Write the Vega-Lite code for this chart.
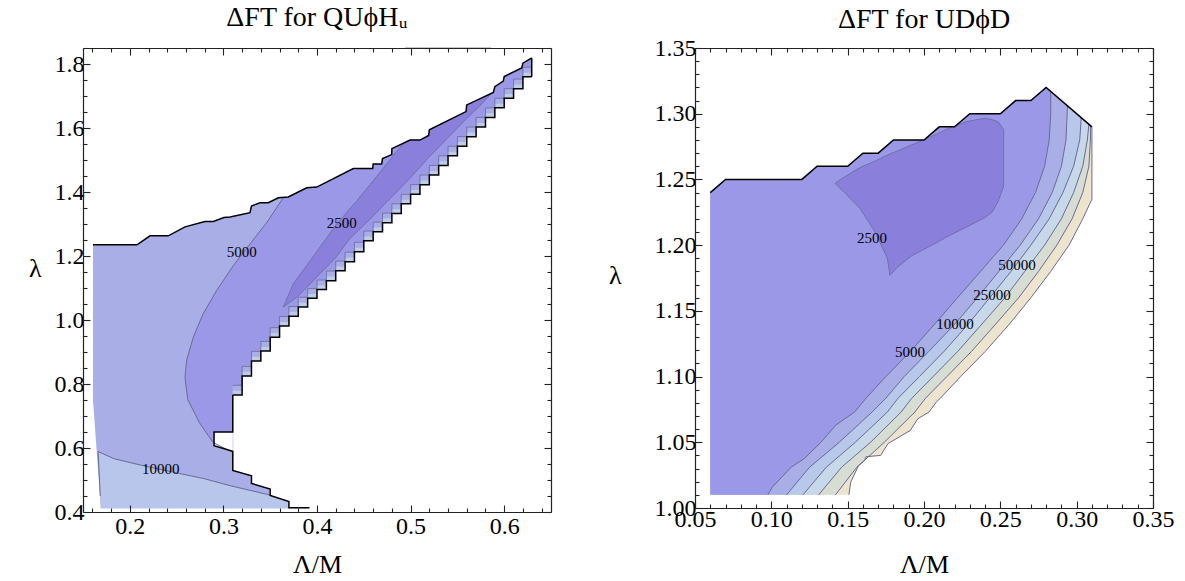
{
"$schema": "https://vega.github.io/schema/vega-lite/v6.json",
"padding": {"left": 28, "top": 4, "right": 5, "bottom": 0},
"spacing": 56,
"config": {
 "font": "Liberation Serif, Times New Roman, serif",
 "view": {"stroke": null},
 "axis": {"grid": false, "domainColor": "#222222", "domainWidth": 1.2, "tickColor": "#222222", "tickWidth": 1.1, "labelColor": "#000000", "titleColor": "#000000", "labelFont": "Liberation Serif, Times New Roman, serif", "titleFont": "Liberation Serif, Times New Roman, serif", "labelFontSize": 24, "titleFontSize": 26, "titleFontWeight": "normal", "labelFlush": false, "labelOverlap": false, "zindex": 1},
 "title": {"font": "Liberation Serif, Times New Roman, serif", "fontSize": 28, "fontWeight": "normal", "color": "#000000", "anchor": "middle", "frame": "group"}
},
"datasets": {
 "L_reg": [
  {"r":"u","i":0,"x":0.1607,"lo":0.75,"hi":1.85},
  {"r":"u","i":1,"x":0.169,"lo":0.412,"hi":1.85},
  {"r":"u","i":2,"x":0.3105,"lo":0.412,"hi":1.85},
  {"r":"t","i":0,"x":0.3095,"lo":0.412,"hi":0.53},
  {"r":"t","i":1,"x":0.31,"lo":0.412,"hi":0.53},
  {"r":"t","i":2,"x":0.33,"lo":0.412,"hi":0.513},
  {"r":"t","i":3,"x":0.33,"lo":0.412,"hi":0.489},
  {"r":"t","i":4,"x":0.35,"lo":0.412,"hi":0.472},
  {"r":"t","i":5,"x":0.35,"lo":0.412,"hi":0.4516},
  {"r":"t","i":6,"x":0.37,"lo":0.412,"hi":0.433},
  {"r":"t","i":7,"x":0.37,"lo":0.412,"hi":0.413},
  {"r":"t","i":8,"x":0.39,"lo":0.412,"hi":0.413},
  {"r":"k","i":0,"x":0.1661,"lo":0.589,"hi":0.589},
  {"r":"k","i":1,"x":0.169,"lo":0.412,"hi":0.5852},
  {"r":"k","i":2,"x":0.1834,"lo":0.412,"hi":0.5664},
  {"r":"k","i":3,"x":0.2124,"lo":0.412,"hi":0.546},
  {"r":"k","i":4,"x":0.2537,"lo":0.412,"hi":0.52},
  {"r":"k","i":5,"x":0.2785,"lo":0.412,"hi":0.505},
  {"r":"k","i":6,"x":0.3075,"lo":0.412,"hi":0.482},
  {"r":"k","i":7,"x":0.3488,"lo":0.412,"hi":0.4537},
  {"r":"k","i":8,"x":0.35,"lo":0.412,"hi":0.4516},
  {"r":"k","i":9,"x":0.37,"lo":0.412,"hi":0.433},
  {"r":"k","i":10,"x":0.37,"lo":0.412,"hi":0.413},
  {"r":"m","i":0,"x":0.259,"lo":0.82,"hi":0.82},
  {"r":"m","i":1,"x":0.2608,"lo":0.7786,"hi":0.875},
  {"r":"m","i":2,"x":0.262,"lo":0.751,"hi":0.887},
  {"r":"m","i":3,"x":0.2679,"lo":0.7167,"hi":0.947},
  {"r":"m","i":4,"x":0.2744,"lo":0.679,"hi":0.9918},
  {"r":"m","i":5,"x":0.2785,"lo":0.6616,"hi":1.02},
  {"r":"m","i":6,"x":0.289,"lo":0.617,"hi":1.0732},
  {"r":"m","i":7,"x":0.2928,"lo":0.6114,"hi":1.0924},
  {"r":"m","i":8,"x":0.3095,"lo":0.587,"hi":1.1652},
  {"r":"m","i":9,"x":0.31,"lo":0.587,"hi":1.1674},
  {"r":"m","i":10,"x":0.31,"lo":0.766,"hi":1.1674},
  {"r":"m","i":11,"x":0.3106,"lo":0.766,"hi":1.17},
  {"r":"m","i":12,"x":0.32,"lo":0.766,"hi":1.2056},
  {"r":"m","i":13,"x":0.32,"lo":0.825,"hi":1.2056},
  {"r":"m","i":14,"x":0.3284,"lo":0.825,"hi":1.2374},
  {"r":"m","i":15,"x":0.33,"lo":0.825,"hi":1.2434},
  {"r":"m","i":16,"x":0.33,"lo":0.872,"hi":1.2434},
  {"r":"m","i":17,"x":0.34,"lo":0.872,"hi":1.2809},
  {"r":"m","i":18,"x":0.34,"lo":0.903,"hi":1.2809},
  {"r":"m","i":19,"x":0.3463,"lo":0.903,"hi":1.3045},
  {"r":"m","i":20,"x":0.35,"lo":0.903,"hi":1.3207},
  {"r":"m","i":21,"x":0.35,"lo":0.946,"hi":1.3207},
  {"r":"m","i":22,"x":0.36,"lo":0.946,"hi":1.3645},
  {"r":"m","i":23,"x":0.36,"lo":0.981,"hi":1.3645},
  {"r":"m","i":24,"x":0.364,"lo":0.981,"hi":1.382},
  {"r":"m","i":25,"x":0.364,"lo":0.981,"hi":1.85},
  {"r":"m","i":26,"x":0.3705,"lo":0.981,"hi":1.85},
  {"r":"d","i":0,"x":0.364,"lo":1.0405,"hi":1.0405},
  {"r":"d","i":1,"x":0.3747,"lo":1.0636,"hi":1.113},
  {"r":"d","i":2,"x":0.38,"lo":1.075,"hi":1.134},
  {"r":"d","i":3,"x":0.389,"lo":1.102,"hi":1.17},
  {"r":"d","i":4,"x":0.4,"lo":1.135,"hi":1.215},
  {"r":"d","i":5,"x":0.4067,"lo":1.155,"hi":1.242},
  {"r":"d","i":6,"x":0.42,"lo":1.195,"hi":1.2955},
  {"r":"d","i":7,"x":0.421,"lo":1.199,"hi":1.2995},
  {"r":"d","i":8,"x":0.435,"lo":1.254,"hi":1.347},
  {"r":"d","i":9,"x":0.4424,"lo":1.275,"hi":1.372},
  {"r":"d","i":10,"x":0.46,"lo":1.325,"hi":1.435},
  {"r":"d","i":11,"x":0.4638,"lo":1.3364,"hi":1.449},
  {"r":"d","i":12,"x":0.48,"lo":1.385,"hi":1.508},
  {"r":"d","i":13,"x":0.4851,"lo":1.4,"hi":1.527},
  {"r":"d","i":14,"x":0.494,"lo":1.427,"hi":1.558},
  {"r":"d","i":15,"x":0.494,"lo":1.427,"hi":1.85},
  {"r":"d","i":16,"x":0.5,"lo":1.445,"hi":1.85},
  {"r":"d","i":17,"x":0.52,"lo":1.51,"hi":1.85},
  {"r":"d","i":18,"x":0.54,"lo":1.57,"hi":1.85},
  {"r":"d","i":19,"x":0.56,"lo":1.63,"hi":1.85},
  {"r":"d","i":20,"x":0.575,"lo":1.672,"hi":1.85},
  {"r":"d","i":21,"x":0.586,"lo":1.707,"hi":1.85},
  {"r":"n","i":0,"x":0.29,"lo":0.607,"hi":0.65},
  {"r":"n","i":1,"x":0.31,"lo":0.59,"hi":0.65},
  {"r":"w","i":0,"x":0.1597,"lo":1.235,"hi":1.85},
  {"r":"w","i":1,"x":0.1607,"lo":1.235,"hi":1.85},
  {"r":"w","i":2,"x":0.2077,"lo":1.235,"hi":1.85},
  {"r":"w","i":3,"x":0.2216,"lo":1.263,"hi":1.85},
  {"r":"w","i":4,"x":0.2411,"lo":1.263,"hi":1.85},
  {"r":"w","i":5,"x":0.259,"lo":1.291,"hi":1.85},
  {"r":"w","i":6,"x":0.2803,"lo":1.3076,"hi":1.85},
  {"r":"w","i":7,"x":0.2892,"lo":1.3076,"hi":1.85},
  {"r":"w","i":8,"x":0.3006,"lo":1.32,"hi":1.85},
  {"r":"w","i":9,"x":0.3071,"lo":1.322,"hi":1.85},
  {"r":"w","i":10,"x":0.3284,"lo":1.3355,"hi":1.85},
  {"r":"w","i":11,"x":0.33,"lo":1.3563,"hi":1.85},
  {"r":"w","i":12,"x":0.3391,"lo":1.3666,"hi":1.85},
  {"r":"w","i":13,"x":0.348,"lo":1.3666,"hi":1.85},
  {"r":"w","i":14,"x":0.3587,"lo":1.3821,"hi":1.85},
  {"r":"w","i":15,"x":0.3693,"lo":1.3843,"hi":1.85},
  {"r":"w","i":16,"x":0.389,"lo":1.4131,"hi":1.85},
  {"r":"w","i":17,"x":0.3997,"lo":1.4153,"hi":1.85},
  {"r":"w","i":18,"x":0.4388,"lo":1.4734,"hi":1.85},
  {"r":"w","i":19,"x":0.4595,"lo":1.4734,"hi":1.85},
  {"r":"w","i":20,"x":0.46,"lo":1.4877,"hi":1.85},
  {"r":"w","i":21,"x":0.4691,"lo":1.4877,"hi":1.85},
  {"r":"w","i":22,"x":0.47,"lo":1.5044,"hi":1.85},
  {"r":"w","i":23,"x":0.4798,"lo":1.5168,"hi":1.85},
  {"r":"w","i":24,"x":0.48,"lo":1.5355,"hi":1.85},
  {"r":"w","i":25,"x":0.4994,"lo":1.5622,"hi":1.85},
  {"r":"w","i":26,"x":0.51,"lo":1.5622,"hi":1.85},
  {"r":"w","i":27,"x":0.5193,"lo":1.5768,"hi":1.85},
  {"r":"w","i":28,"x":0.52,"lo":1.5945,"hi":1.85},
  {"r":"w","i":29,"x":0.5592,"lo":1.6513,"hi":1.85},
  {"r":"w","i":30,"x":0.56,"lo":1.6721,"hi":1.85},
  {"r":"w","i":31,"x":0.5884,"lo":1.7112,"hi":1.85},
  {"r":"w","i":32,"x":0.59,"lo":1.7289,"hi":1.85},
  {"r":"w","i":33,"x":0.599,"lo":1.7466,"hi":1.85},
  {"r":"w","i":34,"x":0.6,"lo":1.7609,"hi":1.85},
  {"r":"w","i":35,"x":0.6187,"lo":1.7879,"hi":1.85},
  {"r":"w","i":36,"x":0.62,"lo":1.8025,"hi":1.85},
  {"r":"w","i":37,"x":0.6294,"lo":1.8189,"hi":1.85},
  {"r":"w","i":38,"x":0.6315,"lo":1.8,"hi":1.85}
 ],
 "L_st": [
  {"i":0,"x":0.31,"s":0.766,"a":0.796,"b":0.779},
  {"i":1,"x":0.32,"s":0.766,"a":0.796,"b":0.779},
  {"i":2,"x":0.32,"s":0.825,"a":0.855,"b":0.838},
  {"i":3,"x":0.33,"s":0.825,"a":0.855,"b":0.838},
  {"i":4,"x":0.33,"s":0.872,"a":0.902,"b":0.885},
  {"i":5,"x":0.34,"s":0.872,"a":0.902,"b":0.885},
  {"i":6,"x":0.34,"s":0.903,"a":0.933,"b":0.916},
  {"i":7,"x":0.35,"s":0.903,"a":0.933,"b":0.916},
  {"i":8,"x":0.35,"s":0.946,"a":0.976,"b":0.959},
  {"i":9,"x":0.36,"s":0.946,"a":0.976,"b":0.959},
  {"i":10,"x":0.36,"s":0.981,"a":1.011,"b":0.994},
  {"i":11,"x":0.37,"s":0.981,"a":1.011,"b":0.994},
  {"i":12,"x":0.37,"s":1.012,"a":1.042,"b":1.025},
  {"i":13,"x":0.38,"s":1.012,"a":1.042,"b":1.025},
  {"i":14,"x":0.38,"s":1.041,"a":1.071,"b":1.054},
  {"i":15,"x":0.39,"s":1.041,"a":1.071,"b":1.054},
  {"i":16,"x":0.39,"s":1.068,"a":1.098,"b":1.081},
  {"i":17,"x":0.4,"s":1.068,"a":1.098,"b":1.081},
  {"i":18,"x":0.4,"s":1.095,"a":1.125,"b":1.108},
  {"i":19,"x":0.41,"s":1.095,"a":1.125,"b":1.108},
  {"i":20,"x":0.41,"s":1.123,"a":1.153,"b":1.136},
  {"i":21,"x":0.42,"s":1.123,"a":1.153,"b":1.136},
  {"i":22,"x":0.42,"s":1.154,"a":1.184,"b":1.167},
  {"i":23,"x":0.43,"s":1.154,"a":1.184,"b":1.167},
  {"i":24,"x":0.43,"s":1.182,"a":1.212,"b":1.195},
  {"i":25,"x":0.44,"s":1.182,"a":1.212,"b":1.195},
  {"i":26,"x":0.44,"s":1.213,"a":1.243,"b":1.226},
  {"i":27,"x":0.45,"s":1.213,"a":1.243,"b":1.226},
  {"i":28,"x":0.45,"s":1.248,"a":1.278,"b":1.261},
  {"i":29,"x":0.46,"s":1.248,"a":1.278,"b":1.261},
  {"i":30,"x":0.46,"s":1.276,"a":1.306,"b":1.289},
  {"i":31,"x":0.47,"s":1.276,"a":1.306,"b":1.289},
  {"i":32,"x":0.47,"s":1.304,"a":1.334,"b":1.317},
  {"i":33,"x":0.48,"s":1.304,"a":1.334,"b":1.317},
  {"i":34,"x":0.48,"s":1.333,"a":1.363,"b":1.346},
  {"i":35,"x":0.49,"s":1.333,"a":1.363,"b":1.346},
  {"i":36,"x":0.49,"s":1.363,"a":1.393,"b":1.376},
  {"i":37,"x":0.5,"s":1.363,"a":1.393,"b":1.376},
  {"i":38,"x":0.5,"s":1.393,"a":1.423,"b":1.406},
  {"i":39,"x":0.51,"s":1.393,"a":1.423,"b":1.406},
  {"i":40,"x":0.51,"s":1.423,"a":1.453,"b":1.436},
  {"i":41,"x":0.52,"s":1.423,"a":1.453,"b":1.436},
  {"i":42,"x":0.52,"s":1.453,"a":1.483,"b":1.466},
  {"i":43,"x":0.53,"s":1.453,"a":1.483,"b":1.466},
  {"i":44,"x":0.53,"s":1.483,"a":1.513,"b":1.496},
  {"i":45,"x":0.54,"s":1.483,"a":1.513,"b":1.496},
  {"i":46,"x":0.54,"s":1.513,"a":1.543,"b":1.526},
  {"i":47,"x":0.55,"s":1.513,"a":1.543,"b":1.526},
  {"i":48,"x":0.55,"s":1.543,"a":1.573,"b":1.556},
  {"i":49,"x":0.56,"s":1.543,"a":1.573,"b":1.556},
  {"i":50,"x":0.56,"s":1.573,"a":1.603,"b":1.586},
  {"i":51,"x":0.57,"s":1.573,"a":1.603,"b":1.586},
  {"i":52,"x":0.57,"s":1.603,"a":1.633,"b":1.616},
  {"i":53,"x":0.58,"s":1.603,"a":1.633,"b":1.616},
  {"i":54,"x":0.58,"s":1.633,"a":1.663,"b":1.646},
  {"i":55,"x":0.59,"s":1.633,"a":1.663,"b":1.646},
  {"i":56,"x":0.59,"s":1.663,"a":1.693,"b":1.676},
  {"i":57,"x":0.6,"s":1.663,"a":1.693,"b":1.676},
  {"i":58,"x":0.6,"s":1.693,"a":1.723,"b":1.706},
  {"i":59,"x":0.61,"s":1.693,"a":1.723,"b":1.706},
  {"i":60,"x":0.61,"s":1.723,"a":1.753,"b":1.736},
  {"i":61,"x":0.62,"s":1.723,"a":1.753,"b":1.736},
  {"i":62,"x":0.62,"s":1.76,"a":1.79,"b":1.773},
  {"i":63,"x":0.6294,"s":1.76,"a":1.79,"b":1.773}
 ],
 "L_ln": [
  {"g":"top","i":0,"x":0.1607,"y":1.235},
  {"g":"top","i":1,"x":0.2077,"y":1.235},
  {"g":"top","i":2,"x":0.2216,"y":1.263},
  {"g":"top","i":3,"x":0.2411,"y":1.263},
  {"g":"top","i":4,"x":0.259,"y":1.291},
  {"g":"top","i":5,"x":0.2803,"y":1.3076},
  {"g":"top","i":6,"x":0.2892,"y":1.3076},
  {"g":"top","i":7,"x":0.3006,"y":1.32},
  {"g":"top","i":8,"x":0.3071,"y":1.322},
  {"g":"top","i":9,"x":0.3284,"y":1.3355},
  {"g":"top","i":10,"x":0.33,"y":1.3563},
  {"g":"top","i":11,"x":0.3391,"y":1.3666},
  {"g":"top","i":12,"x":0.348,"y":1.3666},
  {"g":"top","i":13,"x":0.3587,"y":1.3821},
  {"g":"top","i":14,"x":0.3693,"y":1.3843},
  {"g":"top","i":15,"x":0.389,"y":1.4131},
  {"g":"top","i":16,"x":0.3997,"y":1.4153},
  {"g":"top","i":17,"x":0.4388,"y":1.4734},
  {"g":"top","i":18,"x":0.4595,"y":1.4734},
  {"g":"top","i":19,"x":0.46,"y":1.4877},
  {"g":"top","i":20,"x":0.4691,"y":1.4877},
  {"g":"top","i":21,"x":0.47,"y":1.5044},
  {"g":"top","i":22,"x":0.4798,"y":1.5168},
  {"g":"top","i":23,"x":0.48,"y":1.5355},
  {"g":"top","i":24,"x":0.4994,"y":1.5622},
  {"g":"top","i":25,"x":0.51,"y":1.5622},
  {"g":"top","i":26,"x":0.5193,"y":1.5768},
  {"g":"top","i":27,"x":0.52,"y":1.5945},
  {"g":"top","i":28,"x":0.5592,"y":1.6513},
  {"g":"top","i":29,"x":0.56,"y":1.6721},
  {"g":"top","i":30,"x":0.5884,"y":1.7112},
  {"g":"top","i":31,"x":0.59,"y":1.7289},
  {"g":"top","i":32,"x":0.599,"y":1.7466},
  {"g":"top","i":33,"x":0.6,"y":1.7609},
  {"g":"top","i":34,"x":0.6187,"y":1.7879},
  {"g":"top","i":35,"x":0.62,"y":1.8025},
  {"g":"top","i":36,"x":0.6294,"y":1.8189},
  {"g":"tip","i":0,"x":0.6294,"y":1.76},
  {"g":"tip","i":1,"x":0.6294,"y":1.8189},
  {"g":"low","i":0,"x":0.31,"y":0.766},
  {"g":"low","i":1,"x":0.31,"y":0.65},
  {"g":"low","i":2,"x":0.29,"y":0.65},
  {"g":"low","i":3,"x":0.29,"y":0.607},
  {"g":"low","i":4,"x":0.31,"y":0.59},
  {"g":"low","i":5,"x":0.31,"y":0.53},
  {"g":"low","i":6,"x":0.33,"y":0.513},
  {"g":"low","i":7,"x":0.33,"y":0.489},
  {"g":"low","i":8,"x":0.35,"y":0.472},
  {"g":"low","i":9,"x":0.35,"y":0.4516},
  {"g":"low","i":10,"x":0.37,"y":0.433},
  {"g":"low","i":11,"x":0.37,"y":0.413},
  {"g":"low","i":12,"x":0.392,"y":0.413},
  {"g":"c5","i":0,"x":0.3095,"y":0.587},
  {"g":"c5","i":1,"x":0.289,"y":0.617},
  {"g":"c5","i":2,"x":0.2744,"y":0.679},
  {"g":"c5","i":3,"x":0.262,"y":0.751},
  {"g":"c5","i":4,"x":0.259,"y":0.82},
  {"g":"c5","i":5,"x":0.2608,"y":0.875},
  {"g":"c5","i":6,"x":0.2679,"y":0.947},
  {"g":"c5","i":7,"x":0.2785,"y":1.02},
  {"g":"c5","i":8,"x":0.2928,"y":1.0924},
  {"g":"c5","i":9,"x":0.3106,"y":1.17},
  {"g":"c5","i":10,"x":0.3284,"y":1.2374},
  {"g":"c5","i":11,"x":0.3463,"y":1.3045},
  {"g":"c5","i":12,"x":0.364,"y":1.382},
  {"g":"c10","i":0,"x":0.1685,"y":0.45},
  {"g":"c10","i":1,"x":0.1661,"y":0.589},
  {"g":"c10","i":2,"x":0.1834,"y":0.5664},
  {"g":"c10","i":3,"x":0.2124,"y":0.546},
  {"g":"c10","i":4,"x":0.2537,"y":0.52},
  {"g":"c10","i":5,"x":0.2785,"y":0.505},
  {"g":"c10","i":6,"x":0.3075,"y":0.482},
  {"g":"c10","i":7,"x":0.3488,"y":0.4537},
  {"g":"c10","i":8,"x":0.35,"y":0.4516}
 ],
 "L_lab": [
  {"x":0.3195,"y":1.211,"t":"5000"},
  {"x":0.4264,"y":1.3045,"t":"2500"},
  {"x":0.233,"y":0.5357,"t":"10000"}
 ],
 "R_reg": [
  {"r":"U","i":0,"x":0.06,"lo":1.01,"hi":1.35},
  {"r":"U","i":1,"x":0.1508,"lo":1.01,"hi":1.35},
  {"r":"U","i":2,"x":0.152,"lo":1.0197,"hi":1.35},
  {"r":"U","i":3,"x":0.157,"lo":1.032,"hi":1.35},
  {"r":"U","i":4,"x":0.161,"lo":1.036,"hi":1.35},
  {"r":"U","i":5,"x":0.162,"lo":1.039,"hi":1.35},
  {"r":"U","i":6,"x":0.1716,"lo":1.04,"hi":1.35},
  {"r":"U","i":7,"x":0.1764,"lo":1.049,"hi":1.35},
  {"r":"U","i":8,"x":0.191,"lo":1.059,"hi":1.35},
  {"r":"U","i":9,"x":0.196,"lo":1.068,"hi":1.35},
  {"r":"U","i":10,"x":0.2033,"lo":1.073,"hi":1.35},
  {"r":"U","i":11,"x":0.2083,"lo":1.081,"hi":1.35},
  {"r":"U","i":12,"x":0.2107,"lo":1.0835,"hi":1.35},
  {"r":"U","i":13,"x":0.224,"lo":1.1,"hi":1.35},
  {"r":"U","i":14,"x":0.24,"lo":1.119,"hi":1.35},
  {"r":"U","i":15,"x":0.256,"lo":1.14,"hi":1.35},
  {"r":"U","i":16,"x":0.27,"lo":1.16,"hi":1.35},
  {"r":"U","i":17,"x":0.283,"lo":1.18,"hi":1.35},
  {"r":"U","i":18,"x":0.295,"lo":1.2,"hi":1.35},
  {"r":"U","i":19,"x":0.304,"lo":1.22,"hi":1.35},
  {"r":"U","i":20,"x":0.31,"lo":1.235,"hi":1.35},
  {"r":"g100","i":0,"x":0.06,"lo":1.01,"hi":1.35},
  {"r":"g100","i":1,"x":0.142,"lo":1.01,"hi":1.35},
  {"r":"g100","i":2,"x":0.156,"lo":1.031,"hi":1.35},
  {"r":"g100","i":3,"x":0.174,"lo":1.05,"hi":1.35},
  {"r":"g100","i":4,"x":0.194,"lo":1.073,"hi":1.35},
  {"r":"g100","i":5,"x":0.201,"lo":1.0835,"hi":1.35},
  {"r":"g100","i":6,"x":0.215,"lo":1.1,"hi":1.35},
  {"r":"g100","i":7,"x":0.231,"lo":1.119,"hi":1.35},
  {"r":"g100","i":8,"x":0.247,"lo":1.14,"hi":1.35},
  {"r":"g100","i":9,"x":0.262,"lo":1.16,"hi":1.35},
  {"r":"g100","i":10,"x":0.275,"lo":1.18,"hi":1.35},
  {"r":"g100","i":11,"x":0.287,"lo":1.2,"hi":1.35},
  {"r":"g100","i":12,"x":0.297,"lo":1.22,"hi":1.35},
  {"r":"g100","i":13,"x":0.304,"lo":1.24,"hi":1.35},
  {"r":"g100","i":14,"x":0.308,"lo":1.26,"hi":1.35},
  {"r":"g100","i":15,"x":0.309,"lo":1.28,"hi":1.35},
  {"r":"g100","i":16,"x":0.309,"lo":1.291,"hi":1.35},
  {"r":"g50","i":0,"x":0.06,"lo":1.01,"hi":1.35},
  {"r":"g50","i":1,"x":0.131,"lo":1.01,"hi":1.35},
  {"r":"g50","i":2,"x":0.146,"lo":1.031,"hi":1.35},
  {"r":"g50","i":3,"x":0.165,"lo":1.05,"hi":1.35},
  {"r":"g50","i":4,"x":0.185,"lo":1.073,"hi":1.35},
  {"r":"g50","i":5,"x":0.192,"lo":1.0835,"hi":1.35},
  {"r":"g50","i":6,"x":0.206,"lo":1.1,"hi":1.35},
  {"r":"g50","i":7,"x":0.222,"lo":1.119,"hi":1.35},
  {"r":"g50","i":8,"x":0.238,"lo":1.14,"hi":1.35},
  {"r":"g50","i":9,"x":0.253,"lo":1.16,"hi":1.35},
  {"r":"g50","i":10,"x":0.266,"lo":1.18,"hi":1.35},
  {"r":"g50","i":11,"x":0.279,"lo":1.2,"hi":1.35},
  {"r":"g50","i":12,"x":0.29,"lo":1.22,"hi":1.35},
  {"r":"g50","i":13,"x":0.298,"lo":1.24,"hi":1.35},
  {"r":"g50","i":14,"x":0.304,"lo":1.26,"hi":1.35},
  {"r":"g50","i":15,"x":0.307,"lo":1.28,"hi":1.35},
  {"r":"g50","i":16,"x":0.308,"lo":1.292,"hi":1.35},
  {"r":"g25","i":0,"x":0.06,"lo":1.01,"hi":1.35},
  {"r":"g25","i":1,"x":0.1207,"lo":1.01,"hi":1.35},
  {"r":"g25","i":2,"x":0.136,"lo":1.031,"hi":1.35},
  {"r":"g25","i":3,"x":0.155,"lo":1.05,"hi":1.35},
  {"r":"g25","i":4,"x":0.176,"lo":1.073,"hi":1.35},
  {"r":"g25","i":5,"x":0.183,"lo":1.0835,"hi":1.35},
  {"r":"g25","i":6,"x":0.197,"lo":1.1,"hi":1.35},
  {"r":"g25","i":7,"x":0.213,"lo":1.119,"hi":1.35},
  {"r":"g25","i":8,"x":0.229,"lo":1.14,"hi":1.35},
  {"r":"g25","i":9,"x":0.2445,"lo":1.162,"hi":1.35},
  {"r":"g25","i":10,"x":0.257,"lo":1.18,"hi":1.35},
  {"r":"g25","i":11,"x":0.27,"lo":1.2,"hi":1.35},
  {"r":"g25","i":12,"x":0.282,"lo":1.22,"hi":1.35},
  {"r":"g25","i":13,"x":0.291,"lo":1.24,"hi":1.35},
  {"r":"g25","i":14,"x":0.298,"lo":1.26,"hi":1.35},
  {"r":"g25","i":15,"x":0.302,"lo":1.28,"hi":1.35},
  {"r":"g25","i":16,"x":0.303,"lo":1.297,"hi":1.35},
  {"r":"g10","i":0,"x":0.06,"lo":1.01,"hi":1.35},
  {"r":"g10","i":1,"x":0.11,"lo":1.01,"hi":1.35},
  {"r":"g10","i":2,"x":0.125,"lo":1.031,"hi":1.35},
  {"r":"g10","i":3,"x":0.1445,"lo":1.05,"hi":1.35},
  {"r":"g10","i":4,"x":0.166,"lo":1.073,"hi":1.35},
  {"r":"g10","i":5,"x":0.175,"lo":1.0835,"hi":1.35},
  {"r":"g10","i":6,"x":0.187,"lo":1.1,"hi":1.35},
  {"r":"g10","i":7,"x":0.203,"lo":1.119,"hi":1.35},
  {"r":"g10","i":8,"x":0.2203,"lo":1.14,"hi":1.35},
  {"r":"g10","i":9,"x":0.235,"lo":1.16,"hi":1.35},
  {"r":"g10","i":10,"x":0.249,"lo":1.18,"hi":1.35},
  {"r":"g10","i":11,"x":0.263,"lo":1.2,"hi":1.35},
  {"r":"g10","i":12,"x":0.275,"lo":1.22,"hi":1.35},
  {"r":"g10","i":13,"x":0.284,"lo":1.24,"hi":1.35},
  {"r":"g10","i":14,"x":0.29,"lo":1.26,"hi":1.35},
  {"r":"g10","i":15,"x":0.293,"lo":1.28,"hi":1.35},
  {"r":"g10","i":16,"x":0.294,"lo":1.306,"hi":1.35},
  {"r":"g5","i":0,"x":0.06,"lo":1.01,"hi":1.35},
  {"r":"g5","i":1,"x":0.0977,"lo":1.01,"hi":1.35},
  {"r":"g5","i":2,"x":0.1007,"lo":1.016,"hi":1.35},
  {"r":"g5","i":3,"x":0.1129,"lo":1.031,"hi":1.35},
  {"r":"g5","i":4,"x":0.1215,"lo":1.0375,"hi":1.35},
  {"r":"g5","i":5,"x":0.1325,"lo":1.05,"hi":1.35},
  {"r":"g5","i":6,"x":0.1422,"lo":1.063,"hi":1.35},
  {"r":"g5","i":7,"x":0.1545,"lo":1.073,"hi":1.35},
  {"r":"g5","i":8,"x":0.162,"lo":1.0835,"hi":1.35},
  {"r":"g5","i":9,"x":0.175,"lo":1.1,"hi":1.35},
  {"r":"g5","i":10,"x":0.191,"lo":1.119,"hi":1.35},
  {"r":"g5","i":11,"x":0.207,"lo":1.14,"hi":1.35},
  {"r":"g5","i":12,"x":0.222,"lo":1.16,"hi":1.35},
  {"r":"g5","i":13,"x":0.237,"lo":1.18,"hi":1.35},
  {"r":"g5","i":14,"x":0.252,"lo":1.2,"hi":1.35},
  {"r":"g5","i":15,"x":0.264,"lo":1.22,"hi":1.35},
  {"r":"g5","i":16,"x":0.273,"lo":1.24,"hi":1.35},
  {"r":"g5","i":17,"x":0.279,"lo":1.26,"hi":1.35},
  {"r":"g5","i":18,"x":0.282,"lo":1.28,"hi":1.35},
  {"r":"g5","i":19,"x":0.283,"lo":1.3,"hi":1.35},
  {"r":"g5","i":20,"x":0.283,"lo":1.317,"hi":1.35},
  {"r":"d","i":0,"x":0.1417,"lo":1.247,"hi":1.247},
  {"r":"d","i":1,"x":0.148,"lo":1.24,"hi":1.252},
  {"r":"d","i":2,"x":0.158,"lo":1.228,"hi":1.259},
  {"r":"d","i":3,"x":0.168,"lo":1.21,"hi":1.264},
  {"r":"d","i":4,"x":0.176,"lo":1.19,"hi":1.2685},
  {"r":"d","i":5,"x":0.1777,"lo":1.177,"hi":1.2695},
  {"r":"d","i":6,"x":0.1823,"lo":1.183,"hi":1.2715},
  {"r":"d","i":7,"x":0.192,"lo":1.192,"hi":1.2763},
  {"r":"d","i":8,"x":0.2085,"lo":1.202,"hi":1.2845},
  {"r":"d","i":9,"x":0.2144,"lo":1.206,"hi":1.288},
  {"r":"d","i":10,"x":0.2278,"lo":1.2137,"hi":1.294},
  {"r":"d","i":11,"x":0.24,"lo":1.221,"hi":1.2966},
  {"r":"d","i":12,"x":0.2445,"lo":1.225,"hi":1.2955},
  {"r":"d","i":13,"x":0.2485,"lo":1.233,"hi":1.294},
  {"r":"d","i":14,"x":0.2522,"lo":1.245,"hi":1.288},
  {"r":"w","i":0,"x":0.0595,"lo":1.24,"hi":1.35},
  {"r":"w","i":1,"x":0.06,"lo":1.24,"hi":1.35},
  {"r":"w","i":2,"x":0.07,"lo":1.25,"hi":1.35},
  {"r":"w","i":3,"x":0.12,"lo":1.25,"hi":1.35},
  {"r":"w","i":4,"x":0.13,"lo":1.26,"hi":1.35},
  {"r":"w","i":5,"x":0.15,"lo":1.26,"hi":1.35},
  {"r":"w","i":6,"x":0.16,"lo":1.27,"hi":1.35},
  {"r":"w","i":7,"x":0.17,"lo":1.27,"hi":1.35},
  {"r":"w","i":8,"x":0.18,"lo":1.28,"hi":1.35},
  {"r":"w","i":9,"x":0.2,"lo":1.28,"hi":1.35},
  {"r":"w","i":10,"x":0.21,"lo":1.29,"hi":1.35},
  {"r":"w","i":11,"x":0.22,"lo":1.29,"hi":1.35},
  {"r":"w","i":12,"x":0.23,"lo":1.3,"hi":1.35},
  {"r":"w","i":13,"x":0.25,"lo":1.3,"hi":1.35},
  {"r":"w","i":14,"x":0.26,"lo":1.31,"hi":1.35},
  {"r":"w","i":15,"x":0.27,"lo":1.31,"hi":1.35},
  {"r":"w","i":16,"x":0.28,"lo":1.32,"hi":1.35},
  {"r":"w","i":17,"x":0.31,"lo":1.29,"hi":1.35},
  {"r":"w","i":18,"x":0.3115,"lo":1.289,"hi":1.35}
 ],
 "R_ln": [
  {"g":"top","i":0,"x":0.06,"y":1.24},
  {"g":"top","i":1,"x":0.07,"y":1.25},
  {"g":"top","i":2,"x":0.12,"y":1.25},
  {"g":"top","i":3,"x":0.13,"y":1.26},
  {"g":"top","i":4,"x":0.15,"y":1.26},
  {"g":"top","i":5,"x":0.16,"y":1.27},
  {"g":"top","i":6,"x":0.17,"y":1.27},
  {"g":"top","i":7,"x":0.18,"y":1.28},
  {"g":"top","i":8,"x":0.2,"y":1.28},
  {"g":"top","i":9,"x":0.21,"y":1.29},
  {"g":"top","i":10,"x":0.22,"y":1.29},
  {"g":"top","i":11,"x":0.23,"y":1.3},
  {"g":"top","i":12,"x":0.25,"y":1.3},
  {"g":"top","i":13,"x":0.26,"y":1.31},
  {"g":"top","i":14,"x":0.27,"y":1.31},
  {"g":"top","i":15,"x":0.28,"y":1.32},
  {"g":"top","i":16,"x":0.31,"y":1.29},
  {"g":"redge","i":0,"x":0.31,"y":1.29},
  {"g":"redge","i":1,"x":0.31,"y":1.235}
 ],
 "R_lab": [
  {"x":0.1659,"y":1.2053,"t":"2500"},
  {"x":0.1908,"y":1.1187,"t":"5000"},
  {"x":0.2203,"y":1.14,"t":"10000"},
  {"x":0.2445,"y":1.1624,"t":"25000"},
  {"x":0.2609,"y":1.1846,"t":"50000"}
 ]
},
"hconcat": [
 {
  "width": 468, "height": 464,
  "title": {"text": "ΔFT for QUϕHᵤ", "offset": 14, "fontSize": 28},
  "encoding": {
   "x": {"field": "x", "type": "quantitative", "scale": {"domain": [0.15, 0.65], "nice": false, "zero": false}, "axis": null},
   "y": {"field": "lo", "type": "quantitative", "scale": {"domain": [0.4, 1.85], "nice": false, "zero": false}, "axis": null}
  },
  "layer": [
   {"data": {"name": "L_reg"}, "transform": [{"filter": "datum.r === 'u'"}], "mark": {"type": "area", "color": "#a9aee6"},
    "encoding": {
     "x": {"field": "x", "type": "quantitative", "scale": {"domain": [0.15, 0.65], "nice": false, "zero": false},
      "axis": {"orient": "bottom", "values": [0.2,0.3,0.4,0.5,0.6], "format": ".1f", "tickSize": -7, "labelPadding": 9, "title": "Λ/M", "titlePadding": 13, "zindex": 1}},
     "y": {"field": "lo", "type": "quantitative", "scale": {"domain": [0.4, 1.85], "nice": false, "zero": false},
      "axis": {"orient": "left", "values": [0.4,0.6,0.8,1,1.2,1.4,1.6,1.8], "format": ".1f", "tickSize": -7, "labelPadding": 6, "title": "λ", "titleAngle": 0, "titleAlign": "right", "titleBaseline": "middle", "titleY": 220, "titlePadding": 13, "zindex": 1}},
     "y2": {"field": "hi"}
    }},
   {"data": {"name": "L_st"}, "mark": {"type": "area", "color": "#a9aee6"},
    "encoding": {"y": {"field": "s", "type": "quantitative", "scale": {"domain": [0.4, 1.85], "nice": false, "zero": false}, "axis": null}, "y2": {"datum": 1.85}}},
   {"data": {"name": "L_reg"}, "transform": [{"filter": "datum.r === 't'"}], "mark": {"type": "area", "color": "#a9aee6"}, "encoding": {"y2": {"field": "hi"}}},
   {"data": {"name": "L_reg"}, "transform": [{"filter": "datum.r === 'k'"}], "mark": {"type": "area", "color": "#b7c6ea"}, "encoding": {"y2": {"field": "hi"}}},
   {"data": {"name": "L_reg"}, "transform": [{"filter": "datum.r === 'm'"}], "mark": {"type": "area", "color": "#9b99e7"}, "encoding": {"y2": {"field": "hi"}}},
   {"data": {"name": "L_st"}, "transform": [{"filter": "datum.i >= 11"}], "mark": {"type": "area", "color": "#9b99e7"},
    "encoding": {"y": {"field": "s", "type": "quantitative", "scale": {"domain": [0.4, 1.85], "nice": false, "zero": false}, "axis": null}, "y2": {"datum": 1.85}}},
   {"data": {"name": "L_reg"}, "transform": [{"filter": "datum.r === 'd'"}], "mark": {"type": "area", "color": "#8a80dc", "stroke": "#6a6a96", "strokeWidth": 0.8}, "encoding": {"y2": {"field": "hi"}}},
   {"data": {"name": "L_st"}, "mark": {"type": "area", "color": "#a9aee6"},
    "encoding": {"y": {"field": "s", "type": "quantitative", "scale": {"domain": [0.4, 1.85], "nice": false, "zero": false}, "axis": null}, "y2": {"field": "a"}}},
   {"data": {"name": "L_st"}, "mark": {"type": "area", "color": "#bdcde6"},
    "encoding": {"y": {"field": "s", "type": "quantitative", "scale": {"domain": [0.4, 1.85], "nice": false, "zero": false}, "axis": null}, "y2": {"field": "b"}}},
   {"data": {"name": "L_reg"}, "transform": [{"filter": "datum.r === 'n'"}], "mark": {"type": "area", "color": "#ffffff"}, "encoding": {"y2": {"field": "hi"}}},
   {"data": {"name": "L_reg"}, "transform": [{"filter": "datum.r === 'w'"}], "mark": {"type": "area", "color": "#ffffff"},
    "encoding": {
     "x": {"field": "x", "type": "quantitative", "scale": {"domain": [0.15, 0.65], "nice": false, "zero": false},
      "axis": {"orient": "top", "values": [0.2,0.3,0.4,0.5,0.6], "labels": false, "title": null, "tickSize": -7, "zindex": 1}},
     "y": {"field": "lo", "type": "quantitative", "scale": {"domain": [0.4, 1.85], "nice": false, "zero": false},
      "axis": {"orient": "right", "values": [0.4,0.6,0.8,1,1.2,1.4,1.6,1.8], "labels": false, "title": null, "tickSize": -7, "zindex": 1}},
     "y2": {"field": "hi"}
    }},
   {"data": {"name": "L_ln"}, "transform": [{"filter": "datum.g === 'c5' || datum.g === 'c10'"}], "mark": {"type": "line", "color": "#6a6a96", "strokeWidth": 1},
    "encoding": {"y": {"field": "y", "type": "quantitative", "scale": {"domain": [0.4, 1.85], "nice": false, "zero": false}, "axis": null}, "detail": {"field": "g"}, "order": {"field": "i", "type": "quantitative"}}},
   {"data": {"name": "L_st"}, "mark": {"type": "line", "color": "#6a6a96", "strokeWidth": 0.8},
    "encoding": {"y": {"field": "a", "type": "quantitative", "scale": {"domain": [0.4, 1.85], "nice": false, "zero": false}, "axis": null}, "order": {"field": "i", "type": "quantitative"}}},
   {"data": {"name": "L_ln"}, "transform": [{"filter": "datum.g === 'top' || datum.g === 'low' || datum.g === 'tip'"}], "mark": {"type": "line", "color": "#000000", "strokeWidth": 1.5},
    "encoding": {
     "x": {"field": "x", "type": "quantitative", "scale": {"domain": [0.15, 0.65], "nice": false, "zero": false},
      "axis": {"orient": "bottom", "values": [0.16,0.18,0.22,0.24,0.26,0.28,0.32,0.34,0.36,0.38,0.42,0.44,0.46,0.48,0.52,0.54,0.56,0.58,0.62,0.64], "labels": false, "domain": false, "title": null, "tickSize": -4, "zindex": 1}},
     "y": {"field": "y", "type": "quantitative", "scale": {"domain": [0.4, 1.85], "nice": false, "zero": false},
      "axis": {"orient": "left", "values": [0.45,0.5,0.55,0.65,0.7,0.75,0.85,0.9,0.95,1.05,1.1,1.15,1.25,1.3,1.35,1.45,1.5,1.55,1.65,1.7,1.75,1.85], "labels": false, "domain": false, "title": null, "tickSize": -4, "zindex": 1}},
     "detail": {"field": "g"}, "order": {"field": "i", "type": "quantitative"}}},
   {"data": {"name": "L_st"}, "mark": {"type": "line", "color": "#000000", "strokeWidth": 1.5},
    "encoding": {
     "x": {"field": "x", "type": "quantitative", "scale": {"domain": [0.15, 0.65], "nice": false, "zero": false},
      "axis": {"orient": "top", "values": [0.16,0.18,0.22,0.24,0.26,0.28,0.32,0.34,0.36,0.38,0.42,0.44,0.46,0.48,0.52,0.54,0.56,0.58,0.62,0.64], "labels": false, "domain": false, "title": null, "tickSize": -4, "zindex": 1}},
     "y": {"field": "s", "type": "quantitative", "scale": {"domain": [0.4, 1.85], "nice": false, "zero": false},
      "axis": {"orient": "right", "values": [0.45,0.5,0.55,0.65,0.7,0.75,0.85,0.9,0.95,1.05,1.1,1.15,1.25,1.3,1.35,1.45,1.5,1.55,1.65,1.7,1.75,1.85], "labels": false, "domain": false, "title": null, "tickSize": -4, "zindex": 1}},
     "order": {"field": "i", "type": "quantitative"}}},
   {"data": {"name": "L_lab"}, "mark": {"type": "text", "font": "Liberation Serif, Times New Roman, serif", "fontSize": 15, "color": "#000000"},
    "encoding": {"y": {"field": "y", "type": "quantitative", "scale": {"domain": [0.4, 1.85], "nice": false, "zero": false}, "axis": null}, "text": {"field": "t"}}}
  ],
  "resolve": {"axis": {"x": "independent", "y": "independent"}}
 },
 {
  "width": 458, "height": 460,
  "title": {"text": "ΔFT for UDϕD", "offset": 2, "fontSize": 28},
  "encoding": {
   "x": {"field": "x", "type": "quantitative", "scale": {"domain": [0.05, 0.35], "nice": false, "zero": false}, "axis": null},
   "y": {"field": "lo", "type": "quantitative", "scale": {"domain": [1.0, 1.35], "nice": false, "zero": false}, "axis": null}
  },
  "layer": [
   {"data": {"name": "R_reg"}, "transform": [{"filter": "datum.r === 'U'"}], "mark": {"type": "area", "color": "#ece4cc"},
    "encoding": {
     "x": {"field": "x", "type": "quantitative", "scale": {"domain": [0.05, 0.35], "nice": false, "zero": false},
      "axis": {"orient": "bottom", "values": [0.05,0.1,0.15,0.2,0.25,0.3,0.35], "format": ".2f", "tickSize": -7, "labelPadding": 6, "title": "Λ/M", "titlePadding": 20, "zindex": 1}},
     "y": {"field": "lo", "type": "quantitative", "scale": {"domain": [1.0, 1.35], "nice": false, "zero": false},
      "axis": {"orient": "left", "values": [1,1.05,1.1,1.15,1.2,1.25,1.3,1.35], "format": ".2f", "tickSize": -7, "labelPadding": 6, "title": "λ", "titleAngle": 0, "titleAlign": "right", "titleBaseline": "middle", "titleY": 227, "titlePadding": 33, "zindex": 1}},
     "y2": {"field": "hi"}
    }},
   {"data": {"name": "R_reg"}, "transform": [{"filter": "datum.r === 'g100'"}], "mark": {"type": "area", "color": "#d8ddd4"}, "encoding": {"y2": {"field": "hi"}}},
   {"data": {"name": "R_reg"}, "transform": [{"filter": "datum.r === 'g50'"}], "mark": {"type": "area", "color": "#c7d8e8"}, "encoding": {"y2": {"field": "hi"}}},
   {"data": {"name": "R_reg"}, "transform": [{"filter": "datum.r === 'g25'"}], "mark": {"type": "area", "color": "#b8c8ea"}, "encoding": {"y2": {"field": "hi"}}},
   {"data": {"name": "R_reg"}, "transform": [{"filter": "datum.r === 'g10'"}], "mark": {"type": "area", "color": "#a9aee6"}, "encoding": {"y2": {"field": "hi"}}},
   {"data": {"name": "R_reg"}, "transform": [{"filter": "datum.r === 'g5'"}], "mark": {"type": "area", "color": "#9b99e7"}, "encoding": {"y2": {"field": "hi"}}},
   {"data": {"name": "R_reg"}, "transform": [{"filter": "datum.r === 'd'"}], "mark": {"type": "area", "color": "#8a80dc", "stroke": "#6a6a96", "strokeWidth": 0.8}, "encoding": {"y2": {"field": "hi"}}},
   {"data": {"name": "R_reg"}, "transform": [{"filter": "datum.r === 'w'"}], "mark": {"type": "area", "color": "#ffffff"},
    "encoding": {
     "x": {"field": "x", "type": "quantitative", "scale": {"domain": [0.05, 0.35], "nice": false, "zero": false},
      "axis": {"orient": "top", "values": [0.05,0.1,0.15,0.2,0.25,0.3,0.35], "labels": false, "title": null, "tickSize": -7, "zindex": 1}},
     "y": {"field": "lo", "type": "quantitative", "scale": {"domain": [1.0, 1.35], "nice": false, "zero": false},
      "axis": {"orient": "right", "values": [1,1.05,1.1,1.15,1.2,1.25,1.3,1.35], "labels": false, "title": null, "tickSize": -7, "zindex": 1}},
     "y2": {"field": "hi"}
    }},
   {"data": {"name": "R_reg"}, "transform": [{"filter": "datum.r !== 'd' && datum.r !== 'w' && datum.i > 0"}], "mark": {"type": "line", "color": "#6a6a96", "strokeWidth": 1},
    "encoding": {"detail": {"field": "r"}, "order": {"field": "i", "type": "quantitative"}}},
   {"data": {"name": "R_ln"}, "transform": [{"filter": "datum.g === 'redge'"}], "mark": {"type": "line", "color": "#6a6a96", "strokeWidth": 1},
    "encoding": {
     "x": {"field": "x", "type": "quantitative", "scale": {"domain": [0.05, 0.35], "nice": false, "zero": false},
      "axis": {"orient": "top", "values": [0.06,0.07,0.08,0.09,0.11,0.12,0.13,0.14,0.16,0.17,0.18,0.19,0.21,0.22,0.23,0.24,0.26,0.27,0.28,0.29,0.31,0.32,0.33,0.34], "labels": false, "domain": false, "title": null, "tickSize": -4, "zindex": 1}},
     "y": {"field": "y", "type": "quantitative", "scale": {"domain": [1.0, 1.35], "nice": false, "zero": false},
      "axis": {"orient": "right", "values": [1.01,1.02,1.03,1.04,1.06,1.07,1.08,1.09,1.11,1.12,1.13,1.14,1.16,1.17,1.18,1.19,1.21,1.22,1.23,1.24,1.26,1.27,1.28,1.29,1.31,1.32,1.33,1.34], "labels": false, "domain": false, "title": null, "tickSize": -4, "zindex": 1}},
     "order": {"field": "i", "type": "quantitative"}}},
   {"data": {"name": "R_ln"}, "transform": [{"filter": "datum.g === 'top'"}], "mark": {"type": "line", "color": "#000000", "strokeWidth": 1.5},
    "encoding": {
     "x": {"field": "x", "type": "quantitative", "scale": {"domain": [0.05, 0.35], "nice": false, "zero": false},
      "axis": {"orient": "bottom", "values": [0.06,0.07,0.08,0.09,0.11,0.12,0.13,0.14,0.16,0.17,0.18,0.19,0.21,0.22,0.23,0.24,0.26,0.27,0.28,0.29,0.31,0.32,0.33,0.34], "labels": false, "domain": false, "title": null, "tickSize": -4, "zindex": 1}},
     "y": {"field": "y", "type": "quantitative", "scale": {"domain": [1.0, 1.35], "nice": false, "zero": false},
      "axis": {"orient": "left", "values": [1.01,1.02,1.03,1.04,1.06,1.07,1.08,1.09,1.11,1.12,1.13,1.14,1.16,1.17,1.18,1.19,1.21,1.22,1.23,1.24,1.26,1.27,1.28,1.29,1.31,1.32,1.33,1.34], "labels": false, "domain": false, "title": null, "tickSize": -4, "zindex": 1}},
     "order": {"field": "i", "type": "quantitative"}}},
   {"data": {"name": "R_lab"}, "mark": {"type": "text", "font": "Liberation Serif, Times New Roman, serif", "fontSize": 15, "color": "#000000"},
    "encoding": {"y": {"field": "y", "type": "quantitative", "scale": {"domain": [1.0, 1.35], "nice": false, "zero": false}, "axis": null}, "text": {"field": "t"}}}
  ],
  "resolve": {"axis": {"x": "independent", "y": "independent"}}
 }
]
}
